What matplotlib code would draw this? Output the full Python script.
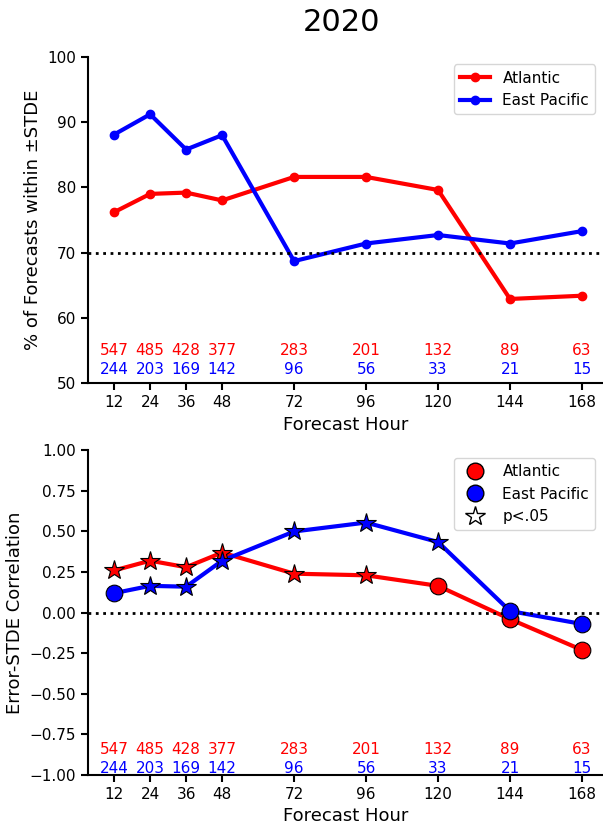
import matplotlib
matplotlib.use("Agg")
import matplotlib.pyplot as plt
from matplotlib.lines import Line2D

# Datos
hours = [12, 24, 36, 48, 72, 96, 120, 144, 168]
n_atl = [547, 485, 428, 377, 283, 201, 132, 89, 63]
n_epac = [244, 203, 169, 142, 96, 56, 33, 21, 15]

pct_atl = [76.2, 79.0, 79.2, 78.0, 81.6, 81.6, 79.6, 62.9, 63.4]
pct_epac = [88.1, 91.2, 85.8, 88.0, 68.7, 71.4, 72.7, 71.4, 73.3]

corr_atl = [0.26, 0.32, 0.28, 0.37, 0.24, 0.23, 0.165, -0.04, -0.23]
corr_epac = [0.12, 0.165, 0.16, 0.32, 0.50, 0.555, 0.435, 0.01, -0.07]
sig_atl = [True, True, True, True, True, True, False, False, False]
sig_epac = [False, True, True, True, True, True, True, False, False]

fig = plt.figure(figsize=(6.03, 8.24), dpi=100)
ax1 = fig.add_axes([0.146, 0.535, 0.854, 0.396])
ax2 = fig.add_axes([0.146, 0.0595, 0.854, 0.394])

fig.text(0.566, 0.973, "2020", ha="center", va="center", fontsize=22)

# Panel superior
ax1.plot(hours, pct_atl, "-o", color="red", lw=3, ms=6, label="Atlantic")
ax1.plot(hours, pct_epac, "-o", color="blue", lw=3, ms=6, label="East Pacific")
ax1.axhline(70, color="black", ls=":", lw=2)
ax1.set_ylim(50, 100)
ax1.set_ylabel("% of Forecasts within \u00b1STDE", fontsize=13)
ax1.legend(loc="upper right", fontsize=11)
for h, a, e in zip(hours, n_atl, n_epac):
    ax1.text(h, 55.0, str(a), color="red", ha="center", va="center", fontsize=11)
    ax1.text(h, 52.1, str(e), color="blue", ha="center", va="center", fontsize=11)

# Panel inferior
ax2.plot(hours, corr_atl, "-", color="red", lw=3, zorder=2)
ax2.plot(hours, corr_epac, "-", color="blue", lw=3, zorder=2)
for vals, sig, col in [(corr_atl, sig_atl, "red"), (corr_epac, sig_epac, "blue")]:
    for h, v, s in zip(hours, vals, sig):
        if s:
            ax2.plot(h, v, "*", color=col, mec="black", mew=0.8, ms=15, zorder=3)
        else:
            ax2.plot(h, v, "o", color=col, mec="black", mew=0.8, ms=12, zorder=3)
ax2.axhline(0, color="black", ls=":", lw=2)
ax2.set_ylim(-1, 1)
ax2.set_yticks([-1, -0.75, -0.5, -0.25, 0, 0.25, 0.5, 0.75, 1])
ax2.set_ylabel("Error-STDE Correlation", fontsize=13)
handles = [
    Line2D([], [], ls="", marker="o", color="red", mec="black", ms=12),
    Line2D([], [], ls="", marker="o", color="blue", mec="black", ms=12),
    Line2D([], [], ls="", marker="*", color="white", mec="black", ms=15),
]
ax2.legend(handles, ["Atlantic", "East Pacific", "p<.05"], loc="upper right", fontsize=11)
for h, a, e in zip(hours, n_atl, n_epac):
    ax2.text(h, -0.845, str(a), color="red", ha="center", va="center", fontsize=11)
    ax2.text(h, -0.958, str(e), color="blue", ha="center", va="center", fontsize=11)

for ax in (ax1, ax2):
    ax.set_xlim(3.3, 175)
    ax.set_xticks(hours)
    ax.set_xlabel("Forecast Hour", fontsize=13)
    ax.tick_params(labelsize=11, width=1.5, length=5)
    ax.spines["top"].set_visible(False)
    ax.spines["right"].set_visible(False)
    ax.spines["left"].set_linewidth(1.5)
    ax.spines["bottom"].set_linewidth(1.5)

fig.savefig("out.png", dpi=100)
